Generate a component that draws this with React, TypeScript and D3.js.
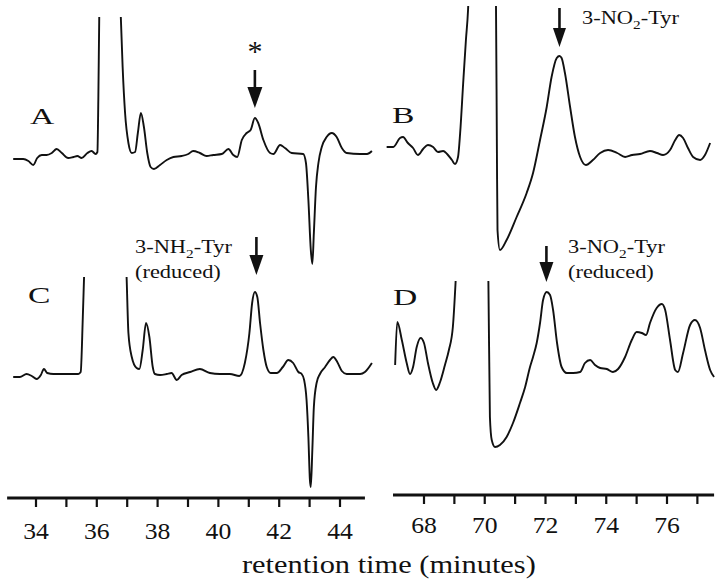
import React from 'react';
import * as d3 from 'd3';

// [retention time (min), detector signal (relative units, baseline = 0)]
const traceA: [number, number][] = [
  [33.25, -3], [33.58, -3], [33.75, -5], [33.91, -9], [34.04, -2], [34.19, 1], [34.35, 1], [34.52, 3],
  [34.68, 7], [34.85, 3], [35.06, -2], [35.23, -1], [35.36, 0], [35.5, -2], [35.69, 3], [35.83, 5],
  [35.96, 2], [36.02, 4], [36.05, 56], [36.08, 138], [36.3, 400], [36.6, 400], [36.79, 139], [36.85, 89],
  [36.93, 43], [37.04, 13], [37.15, 3], [37.26, 4], [37.35, 23], [37.45, 43], [37.55, 29], [37.66, 3],
  [37.77, -11], [37.88, -13], [38.08, -9], [38.3, -4], [38.52, -1], [38.79, 0], [39.01, 2], [39.17, 5],
  [39.39, 3], [39.61, 0], [39.83, 1], [40.11, 2], [40.33, 7], [40.49, 1], [40.62, -1], [40.77, 16],
  [40.93, 23], [41.06, 26], [41.2, 38], [41.31, 33], [41.48, 16], [41.7, 3], [41.81, 2], [42.03, 11],
  [42.19, 8], [42.41, 3], [42.79, 2], [42.88, -7], [42.96, -44], [43.04, -94], [43.09, -108], [43.14, -77],
  [43.21, -31], [43.29, -7], [43.4, 9], [43.56, 19], [43.73, 23], [43.89, 19], [44.06, 8], [44.22, 3],
  [44.66, 2], [44.89, 2], [45.05, 5],
];

const traceB: [number, number][] = [
  [66.77, 8], [66.99, 8], [67.21, 17], [67.31, 18], [67.47, 12], [67.64, 7], [67.8, 0], [67.97, 6],
  [68.13, 10], [68.3, 8], [68.46, 3], [68.63, 4], [68.76, 1], [68.92, -5], [69.02, -9], [69.12, -2],
  [69.19, 22], [69.29, 72], [69.38, 115], [69.45, 145], [69.7, 500], [70.0, 500], [70.37, 150],
  [70.4, 5], [70.42, -75], [70.5, -95], [70.72, -85], [71.05, -62], [71.38, -38], [71.59, -18],
  [71.82, 15], [72.04, 48], [72.2, 78], [72.37, 97], [72.46, 99], [72.53, 97], [72.64, 82], [72.81, 48],
  [72.97, 18], [73.14, -2], [73.33, -10], [73.56, -5], [73.8, 2], [74.06, 5], [74.36, 2], [74.62, -2],
  [74.85, 0], [75.11, 1], [75.44, 4], [75.67, 2], [75.87, 0], [76.1, 5], [76.27, 15], [76.4, 20],
  [76.53, 17], [76.69, 7], [76.86, -2], [77.09, -5], [77.25, 0], [77.42, 12],
];

const traceC: [number, number][] = [
  [33.25, -3], [33.47, -3], [33.69, 0], [33.86, -2], [34.02, -5], [34.16, -1], [34.26, 5], [34.37, 1],
  [34.57, 0], [35.01, 0], [35.39, 0], [35.47, 2], [35.54, 57], [35.58, 96], [35.8, 300], [36.5, 300],
  [36.98, 97], [37.04, 41], [37.15, 17], [37.31, 6], [37.4, 5], [37.51, 24], [37.62, 51], [37.73, 37],
  [37.84, 7], [37.91, 0], [38.08, -1], [38.3, 0], [38.46, 1], [38.63, -6], [38.79, -1], [39.07, 2],
  [39.39, 5], [39.72, 1], [40.05, 0], [40.38, 0], [40.69, -2], [40.87, 11], [41.02, 41], [41.11, 71],
  [41.2, 82], [41.28, 77], [41.37, 51], [41.48, 24], [41.59, 7], [41.72, 1], [41.92, 1], [42.12, 7],
  [42.3, 14], [42.46, 11], [42.63, 2], [42.74, 0], [42.82, -6], [42.9, -26], [42.96, -63], [43.01, -106],
  [43.04, -113], [43.09, -76], [43.14, -33], [43.23, -9], [43.34, 0], [43.51, 7], [43.67, 14], [43.78, 17],
  [43.91, 12], [44.06, 3], [44.22, 0], [44.66, 0], [44.82, 2], [45.05, 11],
];

const traceD: [number, number][] = [
  [67.05, 5], [67.12, 48], [67.27, 30], [67.43, 7], [67.54, -4], [67.64, 3], [67.76, 23], [67.89, 32],
  [68.0, 27], [68.13, 7], [68.29, -13], [68.4, -20], [68.53, -12], [68.69, 5], [68.82, 20], [68.95, 43],
  [69.04, 88], [69.09, 120], [69.5, 300], [69.8, 300], [70.09, 120], [70.12, 88], [70.17, -47],
  [70.23, -70], [70.34, -77], [70.5, -75], [70.72, -67], [70.93, -53], [71.16, -33], [71.33, -17],
  [71.49, 3], [71.59, 13], [71.71, 27], [71.82, 47], [71.92, 70], [72.04, 78], [72.15, 75], [72.25, 60],
  [72.38, 27], [72.53, 3], [72.7, -3], [72.91, -3], [73.14, -2], [73.3, 7], [73.47, 10], [73.63, 5],
  [73.8, 2], [74.02, 1], [74.22, -2], [74.39, 1], [74.62, 13], [74.84, 30], [75.0, 38], [75.17, 37],
  [75.31, 35], [75.44, 47], [75.66, 62], [75.83, 66], [75.94, 60], [76.1, 30], [76.27, 0], [76.36, -2],
  [76.53, 17], [76.76, 45], [76.92, 50], [77.09, 42], [77.25, 20], [77.42, 0], [77.55, -7],
];

const leftTicks = [34, 35, 36, 37, 38, 39, 40, 41, 42, 43, 44];
const leftTickLabels = [34, 36, 38, 40, 42, 44];
const rightTicks = [68, 69, 70, 71, 72, 73, 74, 75, 76, 77];
const rightTickLabels = [68, 70, 72, 74, 76];

const panelLetters = ['A', 'B', 'C', 'D'];
const arrowTimes = [41.2, 72.46, 41.25, 72.03];
const xTitle = 'retention time (minutes)';

const FONT = '"Liberation Serif", "Times New Roman", Times, serif';
const INK = '#111';

const xLeft = d3.scaleLinear().domain([34, 44]).range([36, 340]);
const xRight = d3.scaleLinear().domain([68, 76]).range([424, 667]);

type Panel = {
  data: [number, number][];
  x: d3.ScaleLinear<number, number>;
  base: number;
  clip: [number, number, number, number];
};

const panels: Panel[] = [
  { data: traceA, x: xLeft, base: 156, clip: [0, 17, 378, 290] },
  { data: traceB, x: xRight, base: 155, clip: [380, 6, 340, 290] },
  { data: traceC, x: xLeft, base: 374, clip: [0, 277, 378, 215] },
  { data: traceD, x: xRight, base: 370, clip: [380, 281, 340, 210] },
];

const letterPos = [
  [30, 124], [392, 123], [28, 303], [393, 305],
];

const arrowGeom = [
  { top: 70, tip: 108, hw: 7.5, hl: 21 },
  { top: 8, tip: 47, hw: 6.5, hl: 19 },
  { top: 237, tip: 275, hw: 7, hl: 20 },
  { top: 246, tip: 282, hw: 7, hl: 20 },
];

function SText({ x, y, sx, size, anchor = 'start', children }: any) {
  return (
    <text
      transform={`translate(${x},${y}) scale(${sx},1)`}
      fontFamily={FONT}
      fontSize={size}
      textAnchor={anchor}
      fill={INK}
    >
      {children}
    </text>
  );
}

function Arrow({ x, top, tip, hw, hl }: any) {
  return (
    <g>
      <line x1={x} x2={x} y1={top} y2={tip - hl + 2} stroke={INK} strokeWidth={2.6} />
      <path d={`M${x - hw},${tip - hl} L${x + hw},${tip - hl} L${x},${tip} Z`} fill={INK} />
    </g>
  );
}

function Axis({ x, y, from, to, ticks, labels, labelY }: any) {
  return (
    <g>
      <line x1={x(from)} x2={x(to)} y1={y} y2={y} stroke={INK} strokeWidth={3} />
      {ticks.map((t: number) => (
        <line key={t} x1={x(t)} x2={x(t)} y1={y} y2={y + 9} stroke={INK} strokeWidth={2.2} />
      ))}
      {labels.map((t: number) => (
        <SText key={t} x={x(t)} y={labelY} sx={1.07} size={24} anchor="middle">
          {t}
        </SText>
      ))}
    </g>
  );
}

export default function App() {
  return (
    <svg
      width={720}
      height={582}
      viewBox="0 0 720 582"
      style={{ position: 'absolute', left: 0, top: 0, background: '#fff' }}
    >
      <rect x={0} y={0} width={720} height={582} fill="#fff" />
      <defs>
        {panels.map((p, i) => (
          <clipPath id={`clip${i}`} key={i}>
            <rect x={p.clip[0]} y={p.clip[1]} width={p.clip[2]} height={p.clip[3]} />
          </clipPath>
        ))}
      </defs>

      {panels.map((p, i) => {
        const y = d3.scaleLinear().domain([0, 100]).range([p.base, p.base - 100]);
        const line = d3
          .line<[number, number]>()
          .x((d) => p.x(d[0]))
          .y((d) => y(d[1]))
          .curve(d3.curveMonotoneX);
        return (
          <path
            key={i}
            d={line(p.data) || ''}
            fill="none"
            stroke={INK}
            strokeWidth={1.9}
            strokeLinejoin="round"
            clipPath={`url(#clip${i})`}
          />
        );
      })}

      {panelLetters.map((l, i) => (
        <SText key={l} x={letterPos[i][0]} y={letterPos[i][1]} sx={1.4} size={24}>
          {l}
        </SText>
      ))}

      {arrowTimes.map((t, i) => (
        <Arrow key={i} x={panels[i].x(t)} {...arrowGeom[i]} />
      ))}

      <SText x={xLeft(41.2)} y={61} sx={1} size={30} anchor="middle">*</SText>

      <SText x={582} y={24} sx={1.18} size={19}>
        <tspan>3-NO</tspan>
        <tspan dy={5} fontSize={13}>2</tspan>
        <tspan dy={-5}>-Tyr</tspan>
      </SText>

      <SText x={135} y={253} sx={1.18} size={19}>
        <tspan>3-NH</tspan>
        <tspan dy={5} fontSize={13}>2</tspan>
        <tspan dy={-5}>-Tyr</tspan>
      </SText>
      <SText x={135} y={278} sx={1.18} size={19}>(reduced)</SText>

      <SText x={568} y={253} sx={1.18} size={19}>
        <tspan>3-NO</tspan>
        <tspan dy={5} fontSize={13}>2</tspan>
        <tspan dy={-5}>-Tyr</tspan>
      </SText>
      <SText x={568} y={278} sx={1.18} size={19}>(reduced)</SText>

      <Axis x={xLeft} y={498} from={33.05} to={44.82} ticks={leftTicks} labels={leftTickLabels} labelY={539} />
      <Axis x={xRight} y={495} from={66.98} to={77.55} ticks={rightTicks} labels={rightTickLabels} labelY={533} />

      <SText x={242} y={573} sx={1.17} size={26}>{xTitle}</SText>
    </svg>
  );
}
